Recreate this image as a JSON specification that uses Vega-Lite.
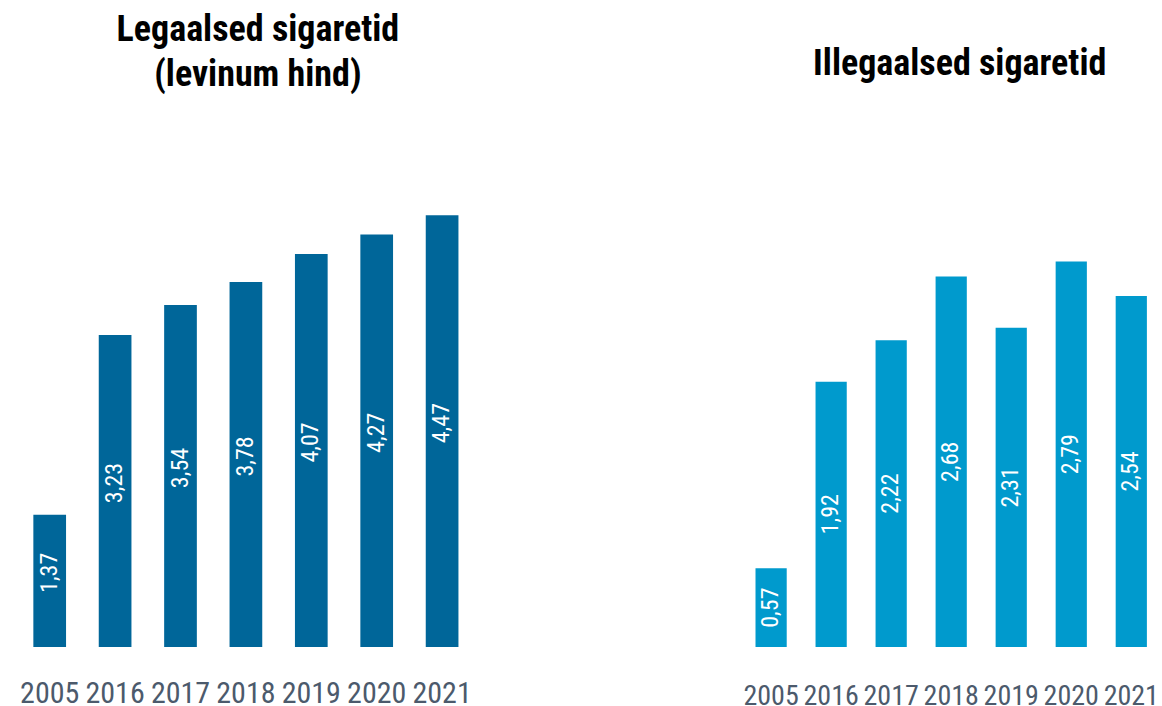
{
  "$schema": "https://vega.github.io/schema/vega-lite/v6.json",
  "padding": {"left": 17, "top": 12, "right": 0, "bottom": 0},
  "autosize": {"type": "pad"},
  "background": "white",
  "bounds": "flush",
  "spacing": 265.5,
  "config": {
    "view": {"stroke": null},
    "locale": {"number": {"decimal": ",", "thousands": " ", "grouping": [3], "currency": ["", " €"]}}
  },
  "datasets": {
    "legal": [
      {"year": "2005", "value": 1.37},
      {"year": "2016", "value": 3.23},
      {"year": "2017", "value": 3.54},
      {"year": "2018", "value": 3.78},
      {"year": "2019", "value": 4.07},
      {"year": "2020", "value": 4.27},
      {"year": "2021", "value": 4.47}
    ],
    "illegal": [
      {"year": "2005", "value": 0.57},
      {"year": "2016", "value": 1.92},
      {"year": "2017", "value": 2.22},
      {"year": "2018", "value": 2.68},
      {"year": "2019", "value": 2.31},
      {"year": "2020", "value": 2.79},
      {"year": "2021", "value": 2.54}
    ]
  },
  "hconcat": [
    {
      "width": 457.8,
      "height": 480,
      "data": {"name": "legal"},
      "title": {
        "text": ["Legaalsed sigaretid", "(levinum hind)"],
        "fontSize": 36,
        "font": "'Roboto Condensed', 'DejaVu Sans Condensed', 'Liberation Sans Narrow', Roboto, sans-serif",
        "fontWeight": "bold",
        "color": "#000000",
        "baseline": "alphabetic",
        "lineHeight": 45,
        "offset": 45,
        "dx": 12
      },
      "encoding": {
        "x": {
          "field": "year", "type": "ordinal",
          "scale": {"paddingInner": 0.5, "paddingOuter": 0.25},
          "axis": {"title": null, "domain": false, "ticks": false, "tickSize": 0, "labelAngle": 0,
            "labelFontSize": 30, "labelColor": "#4c5a6c", "labelBaseline": "alphabetic", "labelPadding": 55,
            "labelFont": "'Roboto Condensed', 'DejaVu Sans Condensed', 'Liberation Sans Narrow', Roboto, sans-serif"}
        }
      },
      "layer": [
        {
          "mark": {"type": "bar", "color": "#006699"},
          "encoding": {"y": {"field": "value", "type": "quantitative", "scale": {"domain": [0, 4.97], "nice": false}, "axis": null}}
        },
        {
          "transform": [{"calculate": "datum.value / 2", "as": "mid"}],
          "mark": {"type": "text", "angle": 270, "color": "white", "fontSize": 24, "align": "center", "baseline": "middle", "yOffset": -8,
            "font": "'Roboto Condensed', 'DejaVu Sans Condensed', 'Liberation Sans Narrow', Roboto, sans-serif"},
          "encoding": {
            "y": {"field": "mid", "type": "quantitative", "scale": {"domain": [0, 4.97], "nice": false}, "axis": null},
            "text": {"field": "value", "type": "quantitative", "format": ".2f"}
          }
        }
      ]
    },
    {
      "width": 421.4,
      "height": 480,
      "data": {"name": "illegal"},
      "title": {
        "text": "Illegaalsed sigaretid",
        "fontSize": 36,
        "font": "'Roboto Condensed', 'DejaVu Sans Condensed', 'Liberation Sans Narrow', Roboto, sans-serif",
        "fontWeight": "bold",
        "color": "#000000",
        "baseline": "alphabetic",
        "offset": 56,
        "dx": 8.5
      },
      "encoding": {
        "x": {
          "field": "year", "type": "ordinal",
          "scale": {"paddingInner": 0.48, "paddingOuter": 0.25},
          "axis": {"title": null, "domain": false, "ticks": false, "tickSize": 0, "labelAngle": 0,
            "labelFontSize": 28, "labelColor": "#4c5a6c", "labelBaseline": "alphabetic", "labelPadding": 57,
            "labelFont": "'Roboto Condensed', 'DejaVu Sans Condensed', 'Liberation Sans Narrow', Roboto, sans-serif"}
        }
      },
      "layer": [
        {
          "mark": {"type": "bar", "color": "#009acd"},
          "encoding": {"y": {"field": "value", "type": "quantitative", "scale": {"domain": [0, 3.473], "nice": false}, "axis": null}}
        },
        {
          "transform": [{"calculate": "datum.value / 2", "as": "mid"}],
          "mark": {"type": "text", "angle": 270, "color": "white", "fontSize": 24, "align": "center", "baseline": "middle",
            "font": "'Roboto Condensed', 'DejaVu Sans Condensed', 'Liberation Sans Narrow', Roboto, sans-serif"},
          "encoding": {
            "y": {"field": "mid", "type": "quantitative", "scale": {"domain": [0, 3.473], "nice": false}, "axis": null},
            "text": {"field": "value", "type": "quantitative", "format": ".2f"}
          }
        }
      ]
    }
  ]
}
